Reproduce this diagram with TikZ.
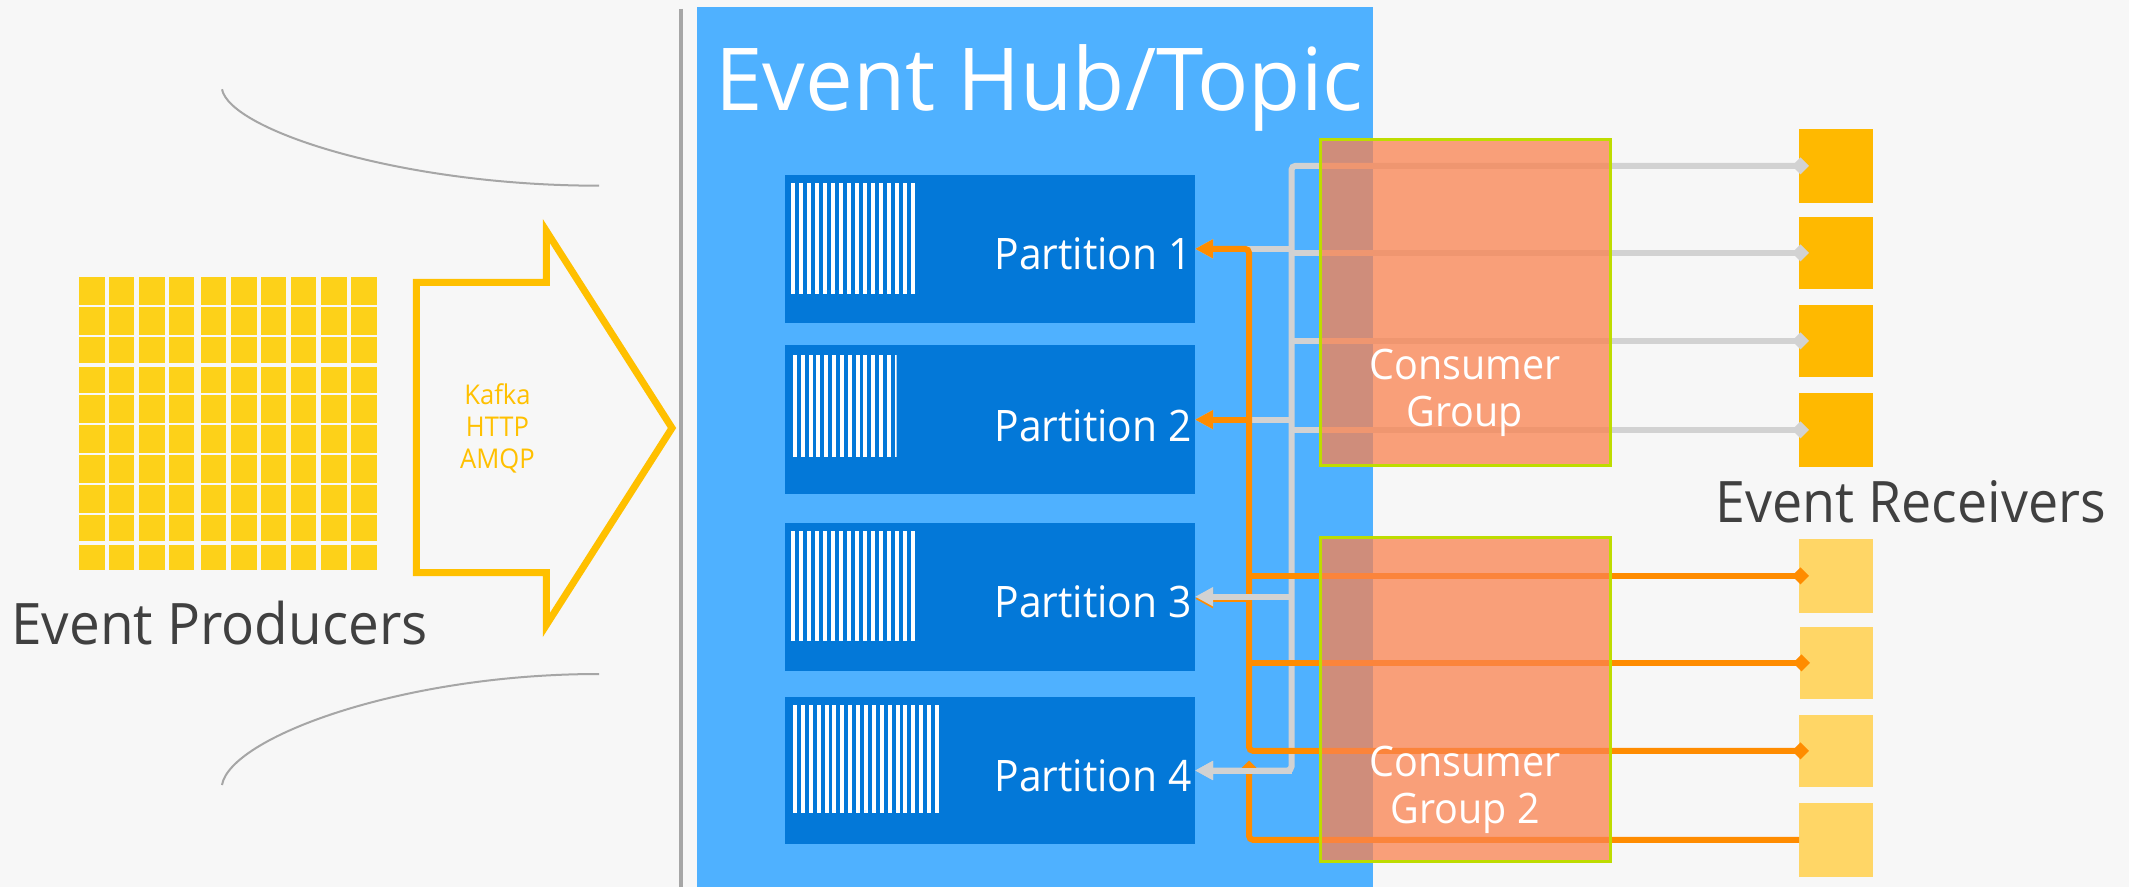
\documentclass[tikz,border=0pt]{standalone}
\usepackage{fontspec}
\setmainfont{Open Sans}[FakeStretch=0.94]
\usetikzlibrary{arrows.meta,fit}

\definecolor{bgc}{HTML}{F7F7F7}
\definecolor{hubblue}{HTML}{4FB1FF}
\definecolor{partblue}{HTML}{0378D8}
\definecolor{prodyellow}{HTML}{FDD119}
\definecolor{arrowgold}{HTML}{FFC000}
\definecolor{recvgoldA}{HTML}{FFB900}
\definecolor{recvgoldB}{HTML}{FFD666}
\definecolor{linkgray}{HTML}{D2D2D2}
\definecolor{linkorange}{HTML}{FF8C00}
\definecolor{groupfill}{RGB}{250,130,80}
\definecolor{groupedge}{RGB}{190,220,0}
\definecolor{textdark}{HTML}{404040}
\definecolor{rulegray}{HTML}{A6A6A6}

\tikzset{
  box/.style={inner sep=0pt, outer sep=0pt},
  partbox/.style={box, fill=partblue},
  recvboxA/.style={box, fill=recvgoldA},
  recvboxB/.style={box, fill=recvgoldB},
  groupbox/.style={box, fill=groupfill, fill opacity=0.75, draw=groupedge, line width=1.5pt},
  grouptext/.style={text=white, font=\fontsize{21}{24}\selectfont, anchor=base, inner sep=0pt},
  parttext/.style={text=white, font=\fontsize{21.7}{26}\selectfont, anchor=base east, inner sep=0pt},
  protocol/.style={text=arrowgold, font=\fontsize{13.6}{16}\selectfont, anchor=base, inner sep=0pt},
  biglabel/.style={text=textdark, font=\fontsize{28.6}{34}\selectfont, anchor=base west, inner sep=0pt},
  glink/.style={draw=linkgray, line width=3pt, rounded corners=2pt},
  olink/.style={draw=linkorange, line width=3pt, rounded corners=2pt},
  toPart/.style={-{Triangle[length=9pt,width=9pt]}},
  toRecv/.style={-{Diamond[length=8.5pt,width=8.5pt]}, shorten >=-5pt},
  bothEnds/.style={{Diamond[length=8.5pt,width=8.5pt]}-{Triangle[length=9pt,width=9pt]}, shorten <=-5pt},
  bar/.style={fill=white},
}

\begin{document}
\begin{tikzpicture}[x=0.5pt, y=-0.5pt]
% canvas
\useasboundingbox (0,0) rectangle (2129,887);
\fill[bgc] (0,0) rectangle (2129,887);

% ---------------- producers ----------------
\foreach \cx in {79.1,109.0,139.3,168.8,200.8,231.1,261.0,290.8,321.1,351.4}
  \foreach \ry/\rh in {277/27.7,307/27.7,337/25.7,366.7/26,395/27.7,425.3/27.4,455/27.7,485/27.7,515/25.7,545/25.3}
    \fill[prodyellow] (\cx,\ry) rectangle ++(25.4,\rh);

\node[biglabel] (producers) at (11,644) {\scalebox{1.02}[1]{Event Producers}};

% protocol arrow
\draw[arrowgold, line width=3.5pt, line join=miter, miter limit=20]
  (416.3,282.3) -- (546.3,282.3) -- (546.3,231) -- (672,428)
  -- (546.3,625) -- (546.3,572.7) -- (416.3,572.7) -- cycle;
\node[protocol] (kafka) at (497.5,404) {Kafka};
\node[protocol] (http) at (497.5,436.7) {HTTP};
\node[protocol] (amqp) at (497.5,468) {AMQP};

% funnel curves
\draw[rulegray, line width=1pt] (222,89.3) .. controls (230,130) and (400,185.7) .. (599,185.7);
\draw[rulegray, line width=1pt] (222,785) .. controls (230,738) and (400,674) .. (599,674);

% separator
\draw[rulegray, line width=2pt] (681,9) -- (681,887);

% ---------------- event hub ----------------
\node[box, fill=hubblue, fit={(697,6.7) (1373,887)}] (hub) {};
\node[anchor=base west, inner sep=0pt, text=white, font=\fontsize{43.4}{50}\selectfont] (hubtitle) at (715,111) {\scalebox{1.044}[1]{Event Hub/Topic}};

\node[partbox, fit={(785,175) (1195,322.7)}] (p1) {};
\node[partbox, fit={(785,345) (1195,494.3)}] (p2) {};
\node[partbox, fit={(785,522.7) (1195,670.7)}] (p3) {};
\node[partbox, fit={(785,697) (1195,844)}] (p4) {};

% event stripes inside each partition
\foreach \s in {0,...,15} \fill[bar] (791+8*\s,183) rectangle ++(4,111);
\begin{scope}
  \clip (790,350) rectangle (896.7,460);
  \foreach \s in {0,...,13} \fill[bar] (793+7.82*\s,355) rectangle ++(4,101.7);
\end{scope}
\foreach \s in {0,...,15} \fill[bar] (791+8*\s,531) rectangle ++(4,109.7);
\foreach \s in {0,...,18} \fill[bar] (793+7.89*\s,705) rectangle ++(4,108);

\node[parttext] (p1t) at (1192,270) {Partition 1};
\node[parttext] (p2t) at (1192,441) {Partition 2};
\node[parttext] (p3t) at (1192,617.3) {Partition 3};
\node[parttext] (p4t) at (1192,791.7) {Partition 4};

% ---------------- receivers ----------------
\node[recvboxA, fit={(1799,129) (1873,202.7)}] (r1) {};
\node[recvboxA, fit={(1799,217) (1873,288.7)}] (r2) {};
\node[recvboxA, fit={(1799,305) (1873,376.7)}] (r3) {};
\node[recvboxA, fit={(1799,393) (1873,466.7)}] (r4) {};
\node[recvboxB, fit={(1799,539) (1873,612.7)}] (r5) {};
\node[recvboxB, fit={(1800,627) (1873,698.7)}] (r6) {};
\node[recvboxB, fit={(1799,715) (1873,786.7)}] (r7) {};
\node[recvboxB, fit={(1799,803) (1873,876.7)}] (r8) {};

\node[biglabel] (receivers) at (1715,522) {Event Receivers};

% trunk positions
\coordinate (gt) at (1291.5,0);
\coordinate (ot) at (1249,0);

% ---------------- consumer group 1 links (gray) ----------------
\draw[glink, bothEnds] (r1.west) -| (gt |- p4.east) -- (p4.east);
\draw[glink, toRecv] (gt |- r2.west) -- (r2.west);
\draw[glink, toRecv] (gt |- r3.west) -- (r3.west);
\draw[glink, toRecv] (gt |- r4.west) -- (r4.west);
\draw[glink, toPart] (gt |- p1.east) -- (p1.east);
\draw[glink, toPart] (gt |- p2.east) -- (p2.east);

% ---------------- consumer group 2 links (orange) ----------------
\draw[olink, bothEnds] (r7.west) -| (ot |- p1.east) -- (p1.east);
\draw[olink, toRecv] (ot |- r5.west) -- (r5.west);
\draw[olink, toRecv] (ot |- r6.west) -- (r6.west);
\draw[olink, toRecv] (r8.west) -| (ot |- p4.east);
\draw[olink, toPart] (ot |- p2.east) -- (p2.east);
\draw[olink, toPart] ([yshift=-1pt]ot |- p3.east) -- ([yshift=-1pt]p3.east);

% gray arrows lying over the orange ones
\draw[glink, toPart] (gt |- p3.east) -- (p3.east);
\draw[glink, toPart] (gt |- p4.east) -- (p4.east);

% ---------------- consumer groups ----------------
\node[groupbox, fit={(1320,139.3) (1610,465.7)}] (g1) {};
\node[groupbox, fit={(1320,537.7) (1610,861.7)}] (g2) {};

\node[grouptext] (g1a) at (1465,379.3) {Consumer};
\node[grouptext] (g1b) at (1465,426) {Group};
\node[grouptext] (g2a) at (1465,776) {Consumer};
\node[grouptext] (g2b) at (1465,823.3) {Group 2};
\end{tikzpicture}
\end{document}
